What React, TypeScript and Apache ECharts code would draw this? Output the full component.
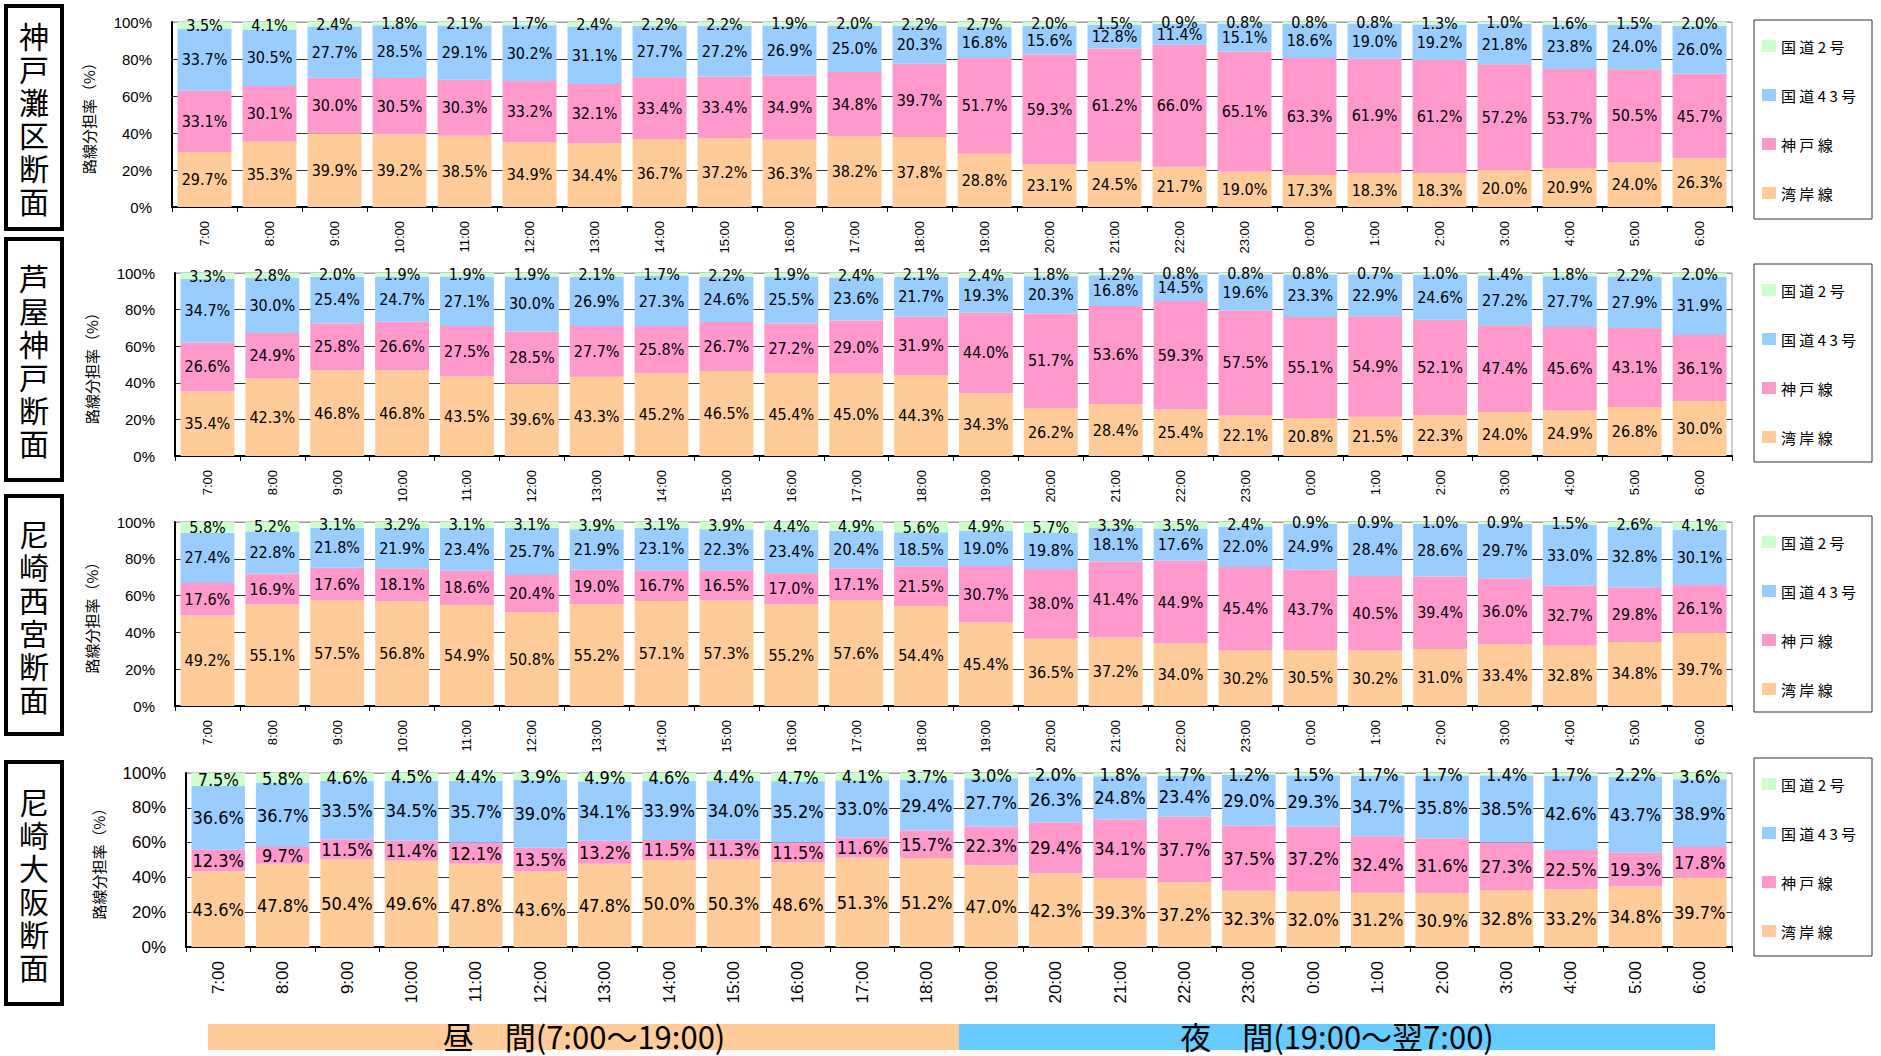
import React, { useEffect, useRef } from 'react';
import * as echarts from 'echarts';

// ---- data ----
const categories = [
  '7:00', '8:00', '9:00', '10:00', '11:00', '12:00', '13:00', '14:00', '15:00', '16:00', '17:00', '18:00',
  '19:00', '20:00', '21:00', '22:00', '23:00', '0:00', '1:00', '2:00', '3:00', '4:00', '5:00', '6:00',
];
const routeNames = ['湾岸線', '神戸線', '国道43号', '国道2号'];
const legendOrder = ['国道2号', '国道43号', '神戸線', '湾岸線'];
const sectionTitles = ['神戸灘区断面', '芦屋神戸断面', '尼崎西宮断面', '尼崎大阪断面'];
const yAxisTitle = '路線分担率（%）';
const dayLabel = '昼　間(7:00～19:00)';
const nightLabel = '夜　間(19:00～翌7:00)';

// 神戸灘区断面
const nadaWangan = [29.7, 35.3, 39.9, 39.2, 38.5, 34.9, 34.4, 36.7, 37.2, 36.3, 38.2, 37.8, 28.8, 23.1, 24.5, 21.7, 19.0, 17.3, 18.3, 18.3, 20.0, 20.9, 24.0, 26.3];
const nadaKobe = [33.1, 30.1, 30.0, 30.5, 30.3, 33.2, 32.1, 33.4, 33.4, 34.9, 34.8, 39.7, 51.7, 59.3, 61.2, 66.0, 65.1, 63.3, 61.9, 61.2, 57.2, 53.7, 50.5, 45.7];
const nadaR43 = [33.7, 30.5, 27.7, 28.5, 29.1, 30.2, 31.1, 27.7, 27.2, 26.9, 25.0, 20.3, 16.8, 15.6, 12.8, 11.4, 15.1, 18.6, 19.0, 19.2, 21.8, 23.8, 24.0, 26.0];
const nadaR2 = [3.5, 4.1, 2.4, 1.8, 2.1, 1.7, 2.4, 2.2, 2.2, 1.9, 2.0, 2.2, 2.7, 2.0, 1.5, 0.9, 0.8, 0.8, 0.8, 1.3, 1.0, 1.6, 1.5, 2.0];

// 芦屋神戸断面
const ashiyaWangan = [35.4, 42.3, 46.8, 46.8, 43.5, 39.6, 43.3, 45.2, 46.5, 45.4, 45.0, 44.3, 34.3, 26.2, 28.4, 25.4, 22.1, 20.8, 21.5, 22.3, 24.0, 24.9, 26.8, 30.0];
const ashiyaKobe = [26.6, 24.9, 25.8, 26.6, 27.5, 28.5, 27.7, 25.8, 26.7, 27.2, 29.0, 31.9, 44.0, 51.7, 53.6, 59.3, 57.5, 55.1, 54.9, 52.1, 47.4, 45.6, 43.1, 36.1];
const ashiyaR43 = [34.7, 30.0, 25.4, 24.7, 27.1, 30.0, 26.9, 27.3, 24.6, 25.5, 23.6, 21.7, 19.3, 20.3, 16.8, 14.5, 19.6, 23.3, 22.9, 24.6, 27.2, 27.7, 27.9, 31.9];
const ashiyaR2 = [3.3, 2.8, 2.0, 1.9, 1.9, 1.9, 2.1, 1.7, 2.2, 1.9, 2.4, 2.1, 2.4, 1.8, 1.2, 0.8, 0.8, 0.8, 0.7, 1.0, 1.4, 1.8, 2.2, 2.0];

// 尼崎西宮断面
const nishiWangan = [49.2, 55.1, 57.5, 56.8, 54.9, 50.8, 55.2, 57.1, 57.3, 55.2, 57.6, 54.4, 45.4, 36.5, 37.2, 34.0, 30.2, 30.5, 30.2, 31.0, 33.4, 32.8, 34.8, 39.7];
const nishiKobe = [17.6, 16.9, 17.6, 18.1, 18.6, 20.4, 19.0, 16.7, 16.5, 17.0, 17.1, 21.5, 30.7, 38.0, 41.4, 44.9, 45.4, 43.7, 40.5, 39.4, 36.0, 32.7, 29.8, 26.1];
const nishiR43 = [27.4, 22.8, 21.8, 21.9, 23.4, 25.7, 21.9, 23.1, 22.3, 23.4, 20.4, 18.5, 19.0, 19.8, 18.1, 17.6, 22.0, 24.9, 28.4, 28.6, 29.7, 33.0, 32.8, 30.1];
const nishiR2 = [5.8, 5.2, 3.1, 3.2, 3.1, 3.1, 3.9, 3.1, 3.9, 4.4, 4.9, 5.6, 4.9, 5.7, 3.3, 3.5, 2.4, 0.9, 0.9, 1.0, 0.9, 1.5, 2.6, 4.1];

// 尼崎大阪断面
const osakaWangan = [43.6, 47.8, 50.4, 49.6, 47.8, 43.6, 47.8, 50.0, 50.3, 48.6, 51.3, 51.2, 47.0, 42.3, 39.3, 37.2, 32.3, 32.0, 31.2, 30.9, 32.8, 33.2, 34.8, 39.7];
const osakaKobe = [12.3, 9.7, 11.5, 11.4, 12.1, 13.5, 13.2, 11.5, 11.3, 11.5, 11.6, 15.7, 22.3, 29.4, 34.1, 37.7, 37.5, 37.2, 32.4, 31.6, 27.3, 22.5, 19.3, 17.8];
const osakaR43 = [36.6, 36.7, 33.5, 34.5, 35.7, 39.0, 34.1, 33.9, 34.0, 35.2, 33.0, 29.4, 27.7, 26.3, 24.8, 23.4, 29.0, 29.3, 34.7, 35.8, 38.5, 42.6, 43.7, 38.9];
const osakaR2 = [7.5, 5.8, 4.6, 4.5, 4.4, 3.9, 4.9, 4.6, 4.4, 4.7, 4.1, 3.7, 3.0, 2.0, 1.8, 1.7, 1.2, 1.5, 1.7, 1.7, 1.4, 1.7, 2.2, 3.6];

const panelData = [
  [nadaWangan, nadaKobe, nadaR43, nadaR2],
  [ashiyaWangan, ashiyaKobe, ashiyaR43, ashiyaR2],
  [nishiWangan, nishiKobe, nishiR43, nishiR2],
  [osakaWangan, osakaKobe, osakaR43, osakaR2],
];

// ---- styles / layout ----
const routeColors = ['#FFCC99', '#FF99CC', '#99CCFF', '#CCFFCC'];
const grids = [
  { left: 172, top: 22, width: 1560, height: 185 },
  { left: 175, top: 273, width: 1557, height: 183 },
  { left: 175, top: 522, width: 1557, height: 184 },
  { left: 186, top: 773, width: 1546, height: 174 },
];
const titleBoxes = [
  { y: 6, h: 223 },
  { y: 239, h: 241 },
  { y: 496, h: 238 },
  { y: 762, h: 242 },
];
const legendBoxes = [
  { y: 20, h: 199 },
  { y: 264, h: 198 },
  { y: 516, h: 196 },
  { y: 758, h: 198 },
];

const NARROW = "'Liberation Sans Narrow', 'DejaVu Sans Condensed', 'Liberation Sans', sans-serif";
const SANS = "'Liberation Sans', Arial, sans-serif";
const CJK = "'Noto Sans CJK JP', sans-serif";

export default function App() {
  const ref = useRef<HTMLDivElement>(null);

  useEffect(() => {
    document.body.style.margin = '0';
    const chart = echarts.init(ref.current!, undefined, { renderer: 'svg' });

    const series: any[] = [];
    panelData.forEach((routes, p) => {
      routes.forEach((vals, r) => {
        series.push({
          type: 'bar',
          name: routeNames[r],
          stack: 'panel' + p,
          xAxisIndex: p,
          yAxisIndex: p,
          data: vals,
          barWidth: '83%',
          itemStyle: { color: routeColors[r] },
          label: {
            show: true,
            position: 'inside',
            color: '#000',
            fontFamily: NARROW,
            fontSize: p === 3 ? 18 : 16,
            formatter: (d: any) => Number(d.value).toFixed(1) + '%',
          },
        });
      });
    });

    const xAxis = grids.map((_, p) => ({
      type: 'category',
      gridIndex: p,
      data: categories,
      axisLine: { lineStyle: { color: '#000', width: 2 } },
      axisTick: { show: true, length: 5, lineStyle: { color: '#000' } },
      axisLabel: {
        interval: 0,
        rotate: 90,
        margin: 14,
        color: '#000',
        fontFamily: SANS,
        fontSize: p === 3 ? 17 : 13,
      },
    }));

    const yAxis = grids.map((_, p) => ({
      type: 'value',
      gridIndex: p,
      min: 0,
      max: 100,
      interval: 20,
      name: yAxisTitle,
      nameLocation: 'middle',
      nameGap: p === 3 ? 80 : 76,
      nameTextStyle: { fontFamily: CJK, fontSize: 15, color: '#000' },
      axisLine: { show: true, lineStyle: { color: '#000', width: 2 } },
      axisTick: { show: false },
      axisLabel: {
        formatter: '{value}%',
        margin: 20,
        color: '#000',
        fontFamily: SANS,
        fontSize: p === 3 ? 17 : 15,
      },
      splitLine: {
        show: true,
        lineStyle: { color: ['#000', '#333', '#333', '#333', '#333', '#999'], width: 1 },
      },
    }));

    const legends = legendBoxes.map((b) => ({
      orient: 'vertical',
      left: 1762,
      top: b.y + 17,
      padding: 0,
      itemWidth: 14,
      itemHeight: 12,
      itemGap: 31,
      icon: 'rect',
      data: legendOrder,
      selectedMode: false,
      formatter: (n: string) => n.split('').join(' '),
      textStyle: { fontFamily: CJK, fontSize: 15, lineHeight: 18, color: '#000' },
    }));

    const graphic: any[] = [];
    titleBoxes.forEach((b, i) => {
      graphic.push({
        type: 'rect',
        shape: { x: 6, y: b.y, width: 56, height: b.h },
        style: { fill: '#fff', stroke: '#000', lineWidth: 4 },
        z: 1,
      });
      graphic.push({
        type: 'text',
        x: 34,
        y: b.y + b.h / 2,
        z: 2,
        style: {
          text: sectionTitles[i].split('').join('\n'),
          fontFamily: CJK,
          fontSize: 30,
          lineHeight: 33,
          fill: '#000',
          align: 'center',
          verticalAlign: 'middle',
          textAlign: 'center',
          textVerticalAlign: 'middle',
        },
      });
    });
    legendBoxes.forEach((b) => {
      graphic.push({
        type: 'rect',
        shape: { x: 1754, y: b.y, width: 118, height: b.h },
        style: { fill: 'none', stroke: '#333', lineWidth: 1 },
        z: 0,
      });
    });
    graphic.push({
      type: 'rect',
      shape: { x: 208, y: 1024, width: 751, height: 26 },
      style: { fill: '#FFCC99' },
    });
    graphic.push({
      type: 'rect',
      shape: { x: 959, y: 1024, width: 756, height: 26 },
      style: { fill: '#66CCFF' },
    });
    [
      { text: dayLabel, x: 584 },
      { text: nightLabel, x: 1337 },
    ].forEach((t) => {
      graphic.push({
        type: 'text',
        x: t.x,
        y: 1035,
        z: 2,
        style: {
          text: t.text,
          fontFamily: CJK,
          fontSize: 31,
          lineHeight: 32,
          fill: '#000',
          align: 'center',
          verticalAlign: 'middle',
          textAlign: 'center',
          textVerticalAlign: 'middle',
        },
      });
    });

    chart.setOption({
      animation: false,
      backgroundColor: '#fff',
      grid: grids.map((g) => ({ ...g, show: true, borderColor: '#999', borderWidth: 1, backgroundColor: 'transparent' })),
      xAxis,
      yAxis,
      legend: legends,
      series,
      graphic,
    });

    return () => chart.dispose();
  }, []);

  return <div ref={ref} style={{ position: 'absolute', left: 0, top: 0, width: 1881, height: 1056 }} />;
}
